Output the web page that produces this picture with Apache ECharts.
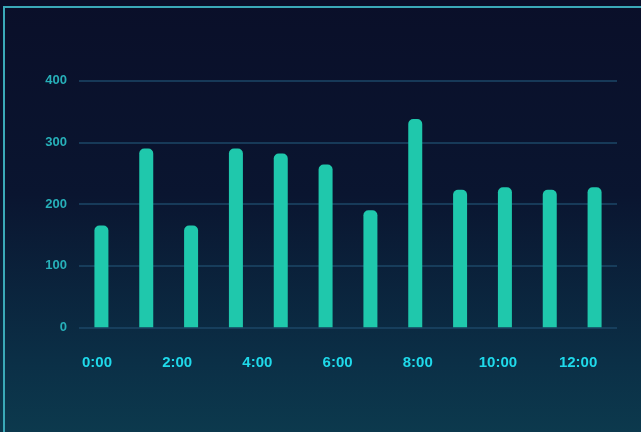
<!DOCTYPE html>
<html>
<head>
<meta charset="utf-8">
<script src="https://cdn.jsdelivr.net/npm/echarts@6/dist/echarts.min.js"></script>
<style>
html,body{margin:0;padding:0;width:641px;height:432px;overflow:hidden;}
#bg{position:absolute;left:0;top:0;width:641px;height:432px;background:linear-gradient(180deg,#0a0f29 0%,#0a1530 45%,#0b3047 85%,#0c394d 100%);}
#frame{position:absolute;left:3px;top:6px;width:700px;height:500px;border:2px solid #3aa9b8;box-sizing:border-box;}
#chart{position:absolute;left:0;top:0;width:641px;height:432px;}
</style>
</head>
<body>
<div id="bg"></div>
<div id="frame"></div>
<div id="chart"></div>
<script>
const categories = ['0:00','1:00','2:00','3:00','4:00','5:00','6:00','7:00','8:00','9:00','10:00','11:00'];
const values = [165, 290, 165, 290, 282, 264, 190, 338, 223, 227, 223, 227];
const hourTicks = [0, 2, 4, 6, 8, 10, 12];
const yTicks = [0, 100, 200, 300, 400];

const chart = echarts.init(document.getElementById('chart'), null, {renderer:'canvas'});
chart.setOption({
  backgroundColor: 'transparent',
  grid: {left: 79, right: 24, top: 80.7, bottom: 104.7, containLabel: false},
  xAxis: [
    {
      type: 'category',
      data: categories,
      axisLine: {show: false},
      axisTick: {show: false},
      axisLabel: {show: false},
      splitLine: {show: false}
    },
    {
      type: 'value',
      position: 'bottom',
      min: -0.449,
      max: 12.97,
      axisLine: {show: false},
      axisTick: {show: false},
      splitLine: {show: false},
      axisLabel: {
        customValues: hourTicks,
        formatter: v => v + ':00',
        color: '#1fd9ea',
        fontSize: 15,
        fontWeight: 'bold',
        fontFamily: 'Liberation Sans, Arial, sans-serif',
        margin: 28
      }
    }
  ],
  yAxis: {
    type: 'value',
    min: 0,
    max: 400,
    interval: 100,
    axisLine: {show: false},
    axisTick: {show: false},
    axisLabel: {
      customValues: yTicks,
      color: '#27b0b9',
      fontSize: 13,
      fontWeight: 'bold',
      fontFamily: 'Liberation Sans, Arial, sans-serif',
      margin: 12
    },
    splitLine: {lineStyle: {color: '#1d4767', width: 1.5}}
  },
  series: [{
    type: 'bar',
    xAxisIndex: 0,
    data: values,
    barWidth: 14,
    itemStyle: {color: '#1fc8ac', borderRadius: [5,5,0,0]}
  }],
  animation: false
});
</script>
</body>
</html>
